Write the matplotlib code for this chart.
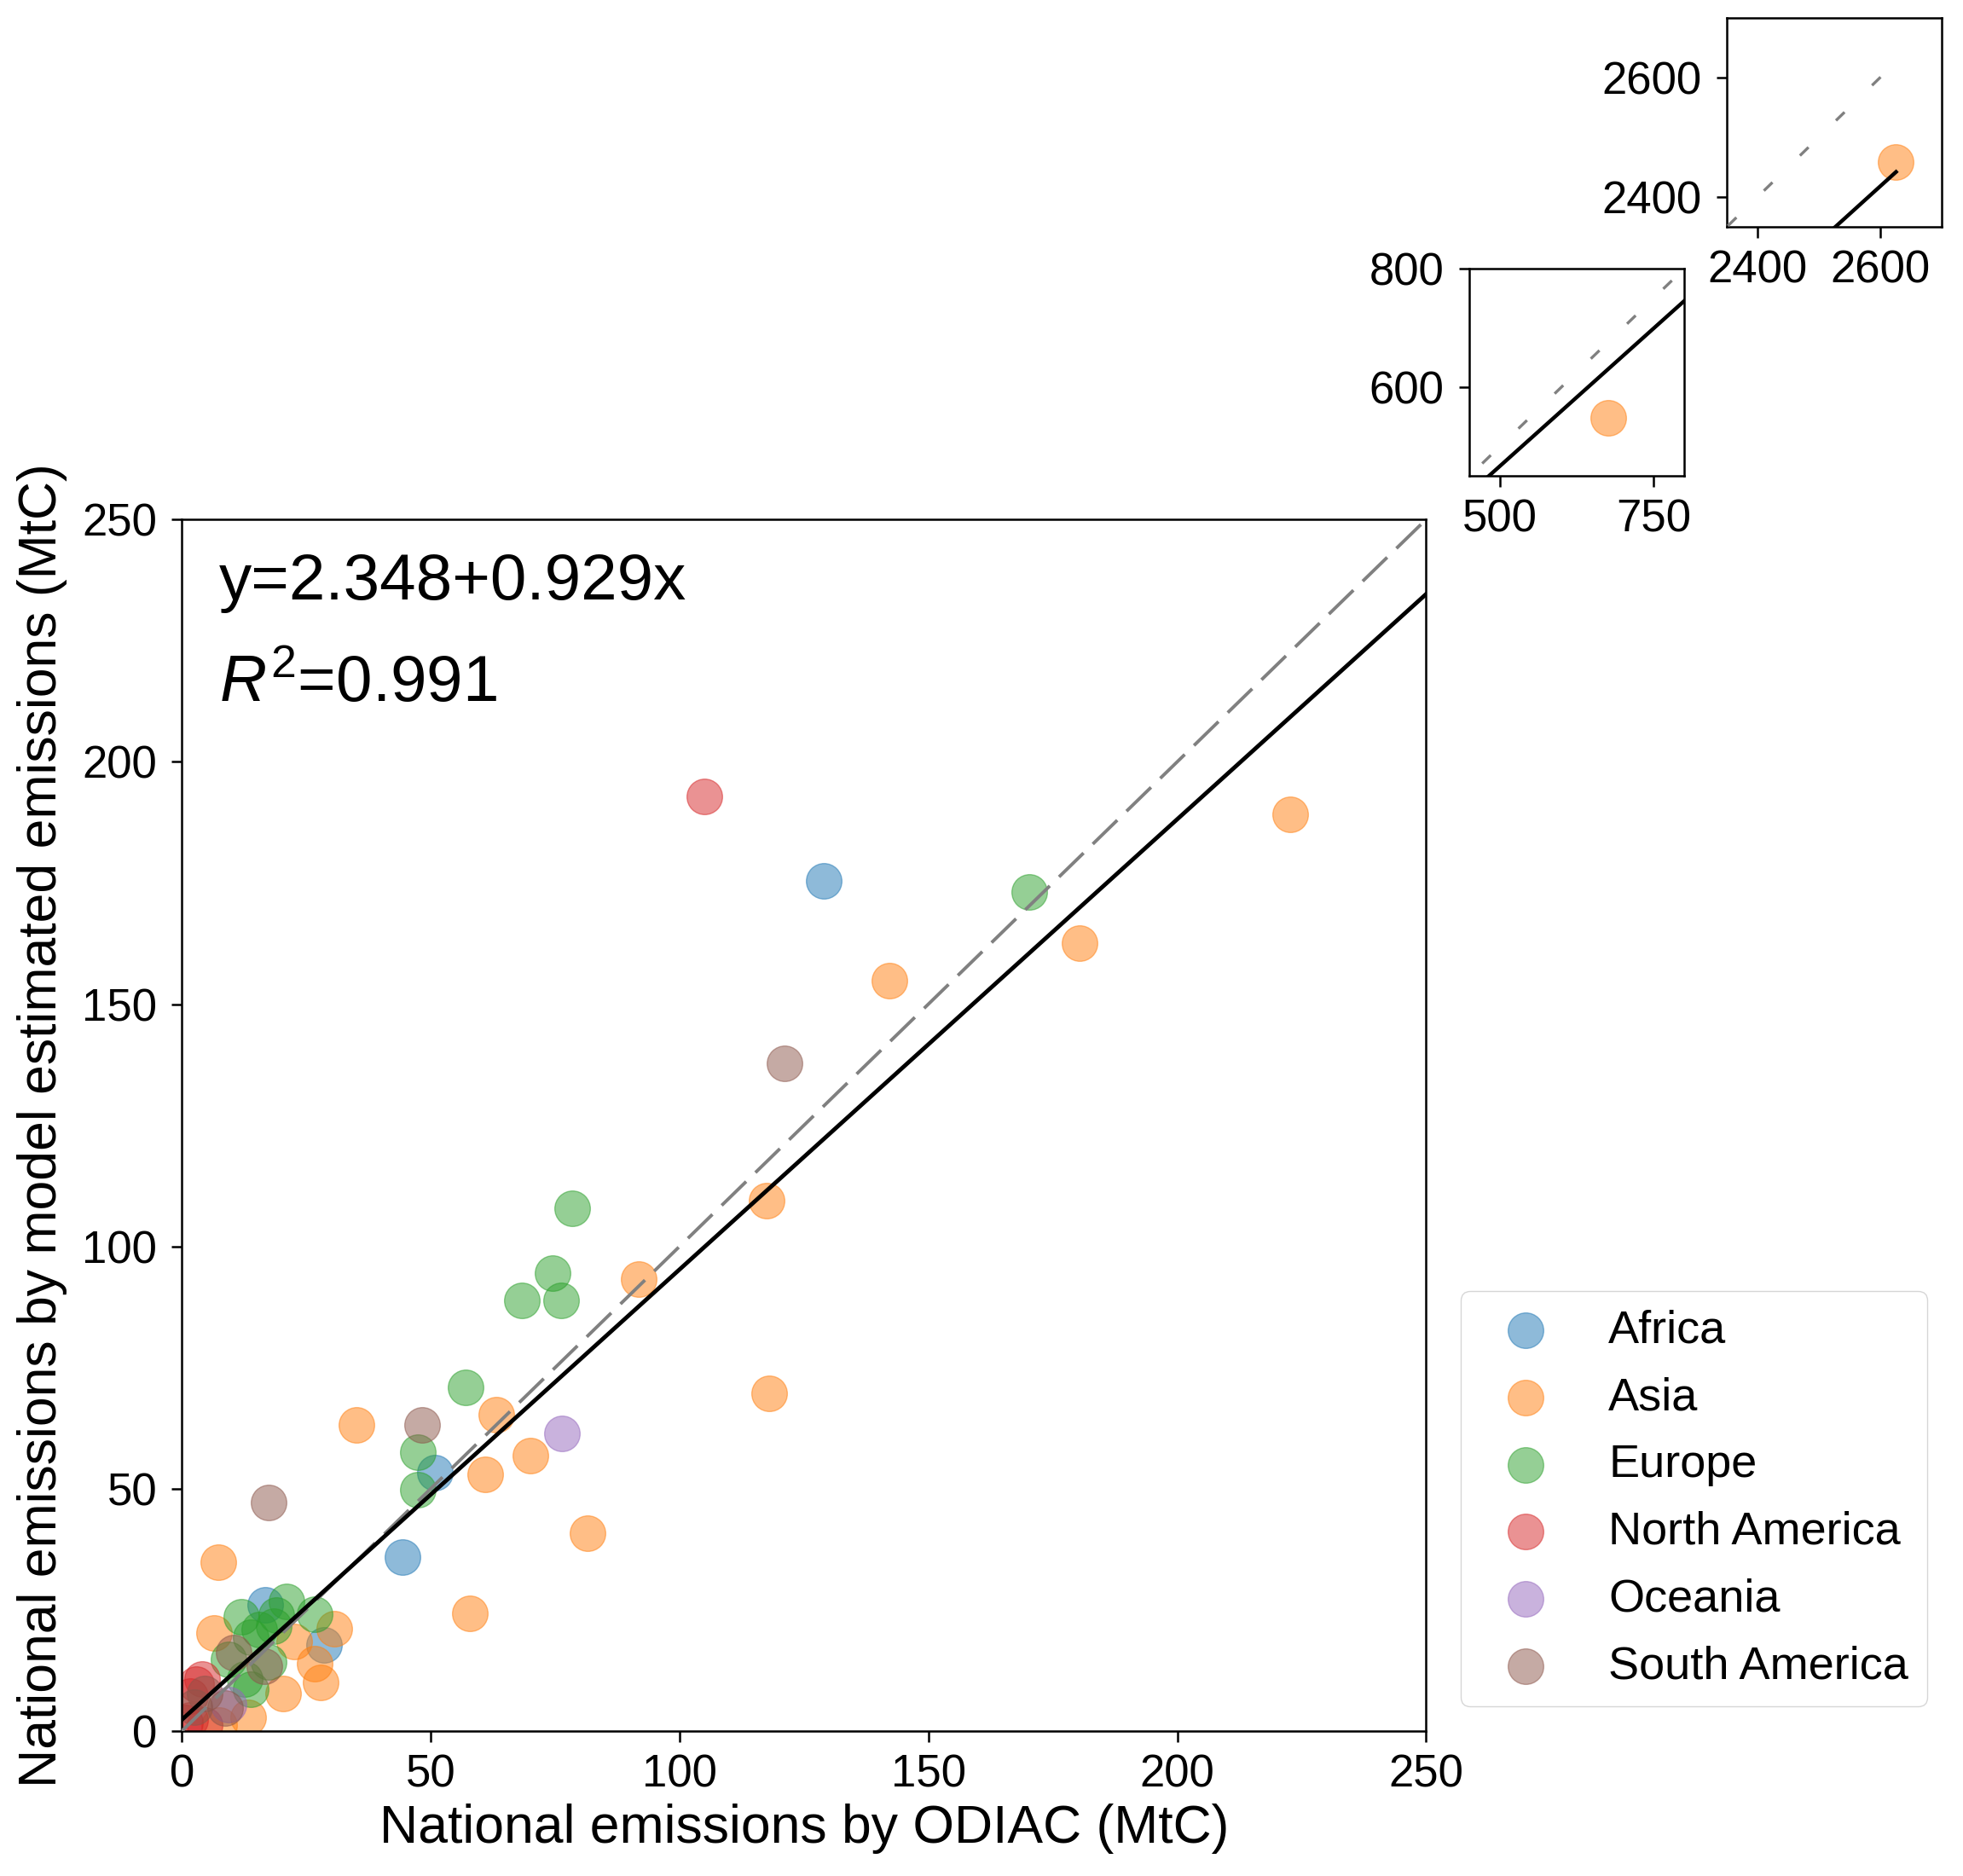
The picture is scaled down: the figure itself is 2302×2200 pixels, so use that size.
import matplotlib
matplotlib.use("Agg")
import matplotlib.pyplot as plt
import numpy as np

plt.rcParams['font.family'] = ['Liberation Sans', 'DejaVu Sans']
plt.rcParams['mathtext.fontset'] = 'custom'
plt.rcParams['mathtext.rm'] = 'Liberation Sans'
plt.rcParams['mathtext.it'] = 'Liberation Sans:italic'

# ---- data ----
regions = ["Africa", "Asia", "Europe", "North America", "Oceania", "South America"]
colors = ["tab:blue", "tab:orange", "tab:green", "tab:red", "tab:purple", "tab:brown"]

africa_x = [128.9, 44.4, 50.9, 28.5, 16.8]
africa_y = [175.5, 35.9, 53.4, 17.7, 26.1]

asia_x = [222.7, 180.3, 142.2, 117.5, 118.0, 91.8, 81.5, 70.1, 61.0, 63.1, 57.8, 35.1,
          7.3, 6.4, 30.7, 22.6, 26.6, 27.8, 20.3, 13.3, 7.5, 676.0, 2626.0]
asia_y = [189.2, 162.6, 154.8, 109.4, 69.7, 93.2, 40.8, 56.8, 52.9, 65.3, 24.3, 63.2,
          34.8, 20.3, 21.2, 18.5, 13.9, 10.1, 7.7, 2.8, 1.3, 549.0, 2459.0]

europe_x = [170.2, 78.4, 74.4, 76.2, 68.3, 57.0, 47.4, 47.4, 21.1, 11.9, 26.6, 15.6,
            18.5, 13.9, 9.3, 17.4, 12.7, 13.9, 19.0]
europe_y = [173.2, 107.9, 94.5, 88.8, 88.8, 71.0, 57.5, 49.8, 26.7, 23.5, 24.1, 20.9,
            21.7, 19.4, 14.7, 14.2, 10.7, 8.6, 24.0]

namerica_x = [104.9, 4.0, 2.9, 1.7, 1.7, 4.6, 0.6]
namerica_y = [192.8, 10.7, 9.6, 7.2, 2.3, 1.2, 1.7]

oceania_x = [76.4, 9.3]
oceania_y = [61.4, 5.4]

samerica_x = [121.1, 48.2, 17.4, 10.4, 16.5, 8.7, 4.6, 2.5]
samerica_y = [137.8, 63.2, 47.2, 16.2, 13.3, 4.8, 7.7, 5.0]

xs = [africa_x, asia_x, europe_x, namerica_x, oceania_x, samerica_x]
ys = [africa_y, asia_y, europe_y, namerica_y, oceania_y, samerica_y]

intercept = 2.348
slope = 0.929
r2 = 0.991

main_ticks = [0, 50, 100, 150, 200, 250]
inset1_ticks = [2400, 2600]
inset2_xticks = [500, 750]
inset2_yticks = [600, 800]

# ---- figure ----
fig = plt.figure(figsize=(23.02, 22.0), dpi=100)
ax = fig.add_axes([0.09266, 0.07727, 0.6338, 0.6458])
ax_in1 = fig.add_axes([0.8797, 0.8791, 0.1093, 0.1114])
ax_in2 = fig.add_axes([0.7484, 0.7462, 0.1096, 0.1106])

xmax_all = max(max(v) for v in xs)
line_x = np.array([0.0, xmax_all])
reg_y = intercept + slope * line_x

msize = 900
handles = []
for a in (ax, ax_in1, ax_in2):
    for name, c, x, y in zip(regions, colors, xs, ys):
        h = a.scatter(x, y, s=msize, color=c, alpha=0.5, label=name, zorder=2)
        if a is ax:
            handles.append(h)

# main lines
ax.plot(line_x, line_x, color='gray', lw=2.8, dashes=(10.3, 3.9), zorder=3)
ax.plot(line_x, reg_y, color='black', lw=3.5, zorder=4)
# inset lines
for a in (ax_in1, ax_in2):
    a.plot(line_x, line_x, color='gray', lw=2.4, dashes=(4.2, 13.5), zorder=3)
    a.plot(line_x, reg_y, color='black', lw=3.2, zorder=4)

ax.set_xlim(0, 250)
ax.set_ylim(0, 250)
ax.set_xticks(main_ticks)
ax.set_yticks(main_ticks)

ax_in1.set_xlim(2350, 2700)
ax_in1.set_ylim(2350, 2700)
ax_in1.set_xticks(inset1_ticks)
ax_in1.set_yticks(inset1_ticks)

ax_in2.set_xlim(450, 800)
ax_in2.set_ylim(450, 800)
ax_in2.set_xticks(inset2_xticks)
ax_in2.set_yticks(inset2_yticks)

for a in (ax, ax_in1, ax_in2):
    a.tick_params(labelsize=38, length=9, width=1.8)
    a.tick_params(axis='x', pad=10)
    a.tick_params(axis='y', pad=12)
    for sp in a.spines.values():
        sp.set_linewidth(1.8)

ax.set_xlabel("National emissions by ODIAC (MtC)", fontsize=45, labelpad=6)
ax.set_ylabel("National emissions by model estimated emissions (MtC)", fontsize=45, labelpad=12)

ax.text(0.0297, 0.934, f"y={intercept:.3f}+{slope:.3f}x", transform=ax.transAxes,
        fontsize=55, ha='left', va='baseline')
ax.text(0.0297, 0.8496, f"$R^2$={r2:.3f}", transform=ax.transAxes,
        fontsize=55, ha='left', va='baseline')

leg = ax.legend(handles=handles, loc='lower left', bbox_to_anchor=(0.7440, 0.0906),
                bbox_transform=fig.transFigure, borderaxespad=0, fontsize=39,
                handletextpad=0.8, labelspacing=0.53, borderpad=0.4)

fig.savefig("out.png", dpi=100)
